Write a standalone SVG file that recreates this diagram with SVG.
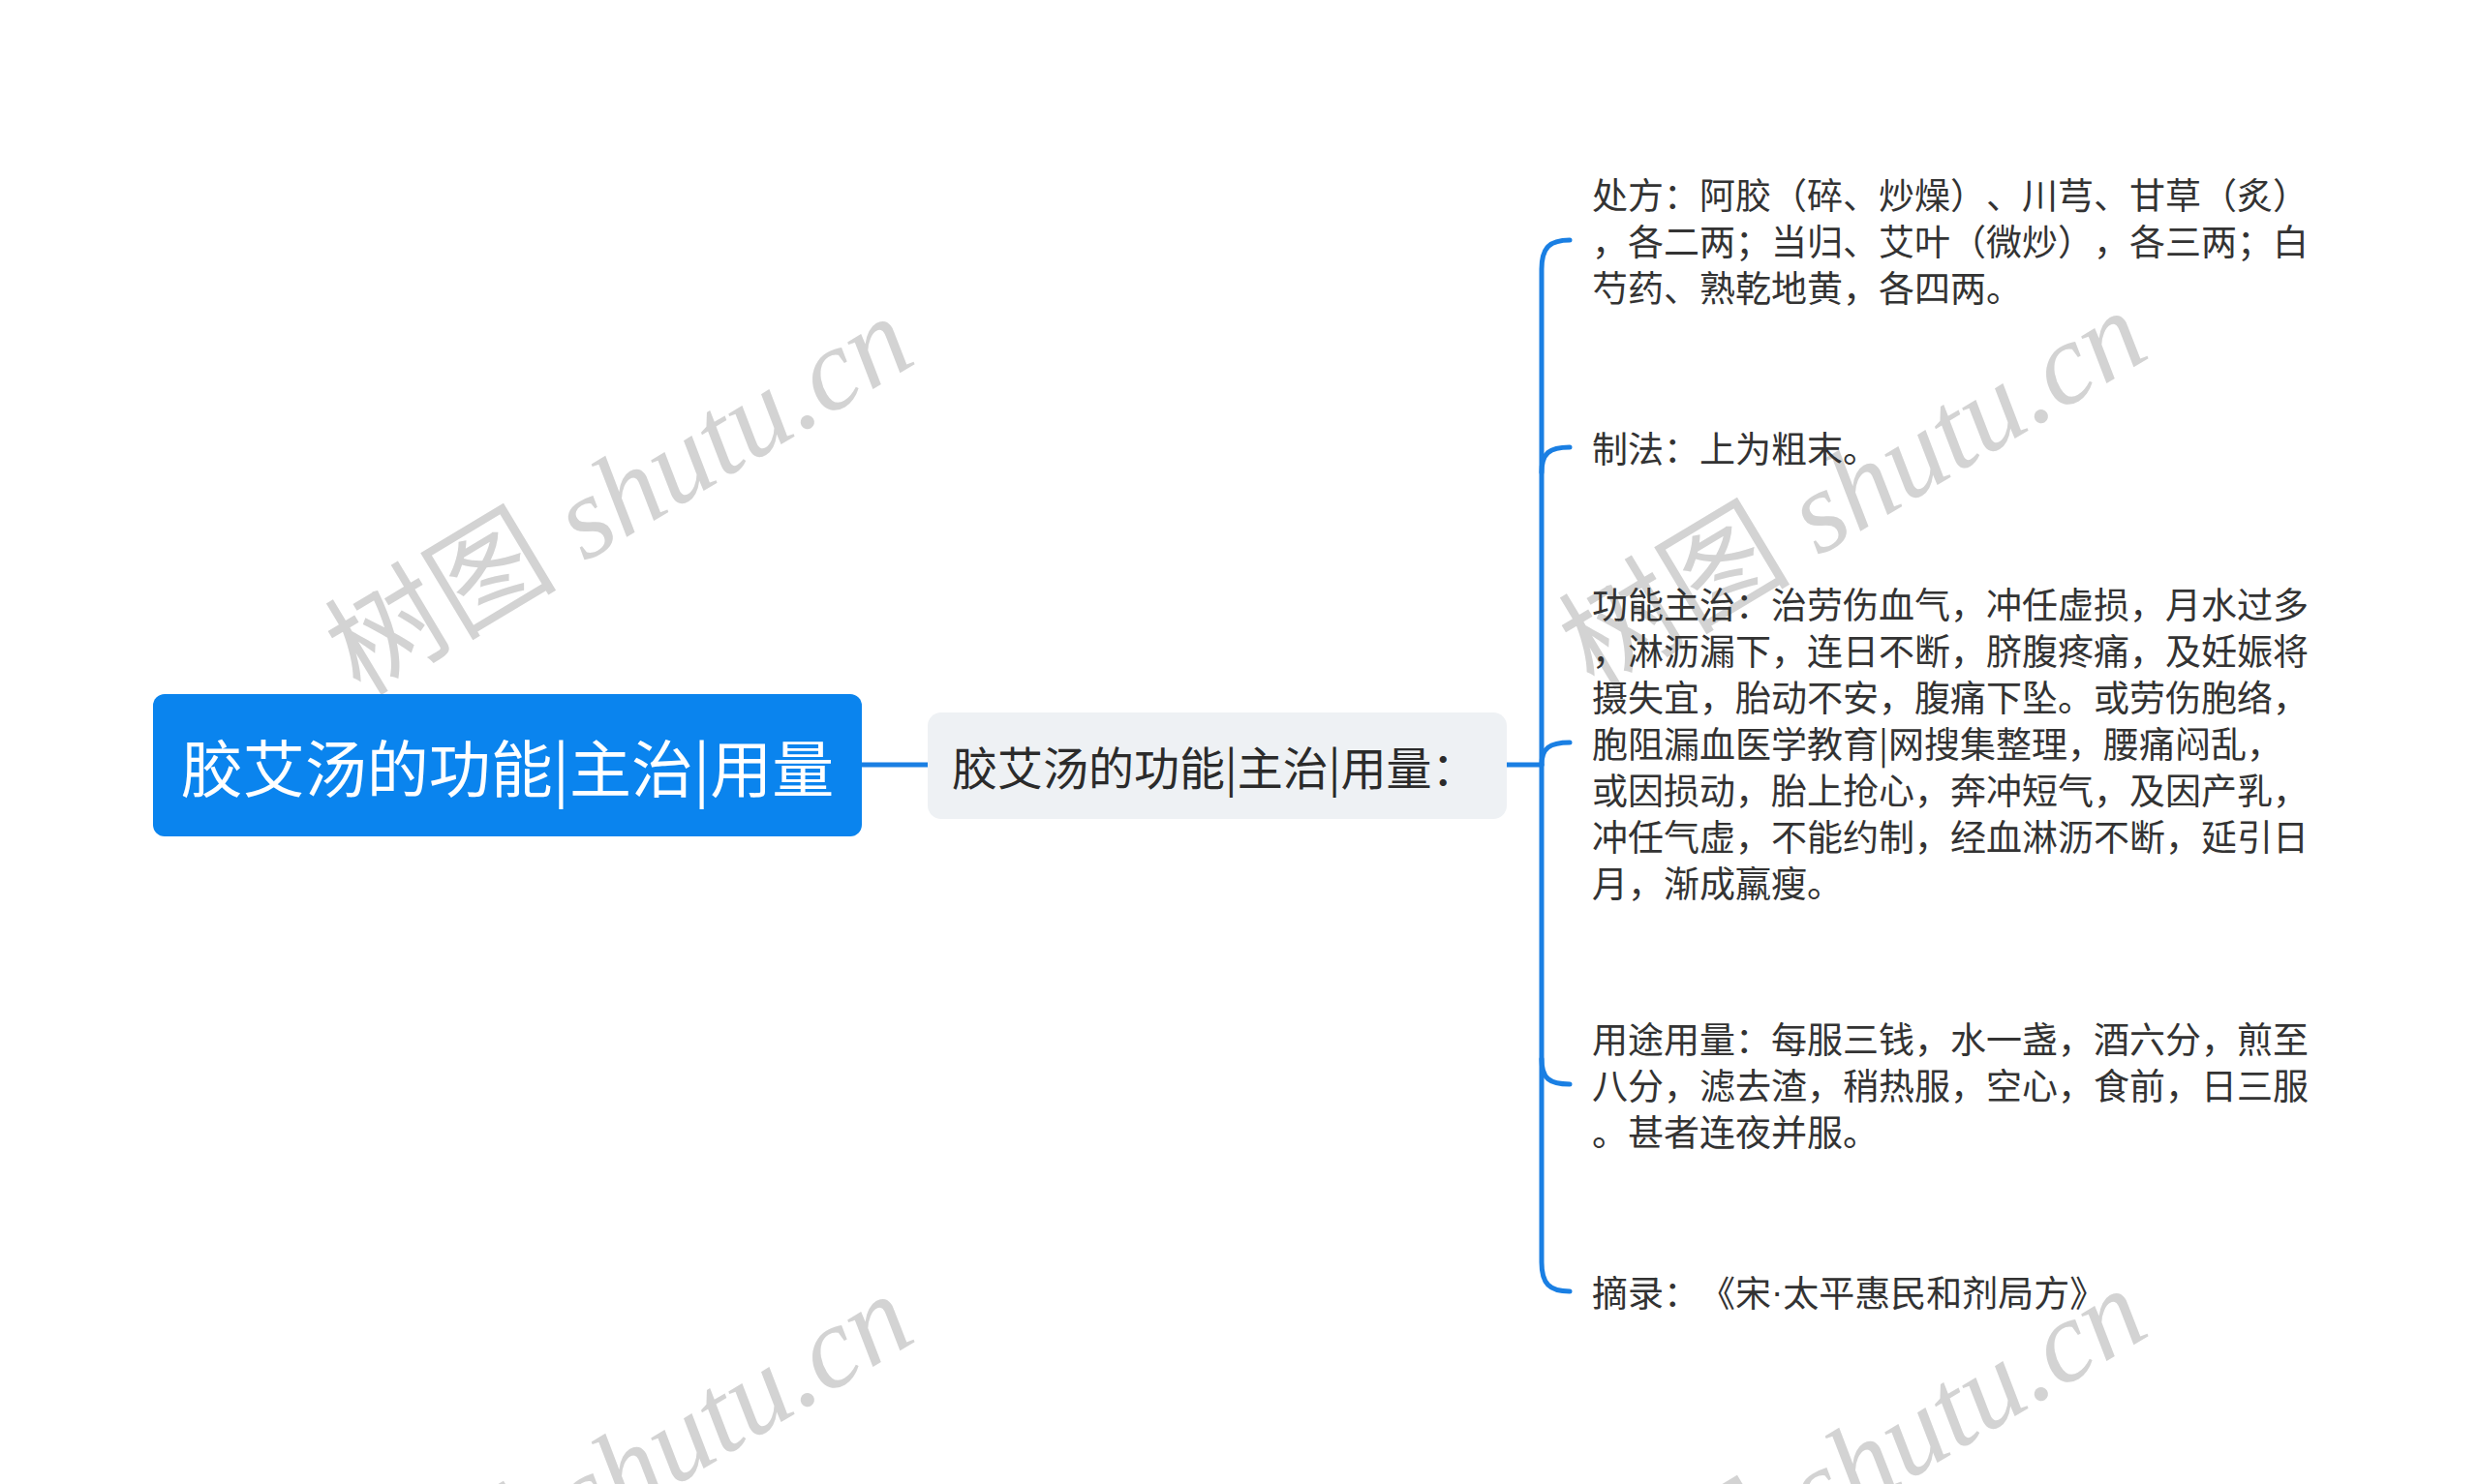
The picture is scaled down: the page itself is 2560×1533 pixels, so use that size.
<svg xmlns="http://www.w3.org/2000/svg" width="2560" height="1533" viewBox="0 0 2560 1533">
<style>
text{text-spacing-trim:space-all}
.wm{font-family:"Liberation Serif","Noto Sans CJK SC",serif;font-size:120px;fill:#d3d3d3}
.wm .it{font-style:italic}
.root-t{font-family:"Noto Sans CJK SC","Noto Sans",sans-serif;font-size:64px;fill:#ffffff}
.mid-t{font-family:"Noto Sans CJK SC","Noto Sans",sans-serif;font-size:47px;fill:#2b2b2b}
.leaf-t{font-family:"Noto Sans CJK SC","Noto Sans",sans-serif;font-size:37px;fill:#333333}
.dot{font-family:"Liberation Sans","Noto Sans",sans-serif}
.conn{fill:none;stroke:#1a7fe3;stroke-width:5;stroke-linecap:round}
</style>
<rect x="0" y="0" width="2560" height="1533" fill="#ffffff"/>
<g id="watermarks">
<text class="wm" transform="translate(372,720) rotate(-31)">树图 <tspan class="it">shutu.cn</tspan></text>
<text class="wm" transform="translate(1646,714) rotate(-31)">树图 <tspan class="it">shutu.cn</tspan></text>
<text class="wm" transform="translate(372,1730) rotate(-31)">树图 <tspan class="it">shutu.cn</tspan></text>
<text class="wm" transform="translate(1646,1724) rotate(-31)">树图 <tspan class="it">shutu.cn</tspan></text>
</g>
<g id="connectors">
<path class="conn" d="M890 790 L958 790"/>
<path class="conn" d="M1556 790 L1592 790"/>
<path class="conn" d="M1621 248 C1600 248 1592 256 1592 278 L1592 1304 C1592 1326 1600 1334 1621 1334"/>
<path class="conn" d="M1592 488 C1592 468 1600 462 1621 462"/>
<path class="conn" d="M1592 790 C1592 773 1600 767 1621 767"/>
<path class="conn" d="M1592 1094 C1592 1114 1600 1120 1621 1120"/>
</g>
<g id="root">
<rect x="158" y="717" width="732" height="147" rx="12" fill="#0a84ee"/>
<text class="root-t" x="524" y="790" text-anchor="middle" dominant-baseline="central">胶艾汤的功能|主治|用量</text>
</g>
<g id="mid">
<rect x="958" y="736" width="598" height="110" rx="14" fill="#eef1f4"/>
<text class="mid-t" x="983" y="790" dominant-baseline="central">胶艾汤的功能|主治|用量：</text>
</g>
<g id="item1">
<text class="leaf-t" dominant-baseline="central">
<tspan x="1644" y="200">处方：阿胶（碎、炒燥）、川芎、甘草（炙）</tspan>
<tspan x="1644" y="248">，各二两；当归、艾叶（微炒），各三两；白</tspan>
<tspan x="1644" y="296">芍药、熟乾地黄，各四两。</tspan>
</text>
</g>
<g id="item2">
<text class="leaf-t" dominant-baseline="central"><tspan x="1644" y="462">制法：上为粗末。</tspan></text>
</g>
<g id="item3">
<text class="leaf-t" dominant-baseline="central">
<tspan x="1644" y="623">功能主治：治劳伤血气，冲任虚损，月水过多</tspan>
<tspan x="1644" y="671">，淋沥漏下，连日不断，脐腹疼痛，及妊娠将</tspan>
<tspan x="1644" y="719">摄失宜，胎动不安，腹痛下坠。或劳伤胞络，</tspan>
<tspan x="1644" y="767">胞阻漏血医学教育|网搜集整理，腰痛闷乱，</tspan>
<tspan x="1644" y="815">或因损动，胎上抢心，奔冲短气，及因产乳，</tspan>
<tspan x="1644" y="863">冲任气虚，不能约制，经血淋沥不断，延引日</tspan>
<tspan x="1644" y="911">月，渐成羸瘦。</tspan>
</text>
</g>
<g id="item4">
<text class="leaf-t" dominant-baseline="central">
<tspan x="1644" y="1072">用途用量：每服三钱，水一盏，酒六分，煎至</tspan>
<tspan x="1644" y="1120">八分，滤去渣，稍热服，空心，食前，日三服</tspan>
<tspan x="1644" y="1168">。甚者连夜并服。</tspan>
</text>
</g>
<g id="item5">
<text class="leaf-t" dominant-baseline="central"><tspan x="1644" y="1334">摘录：《宋<tspan class="dot">·</tspan>太平惠民和剂局方》</tspan></text>
</g>
</svg>
